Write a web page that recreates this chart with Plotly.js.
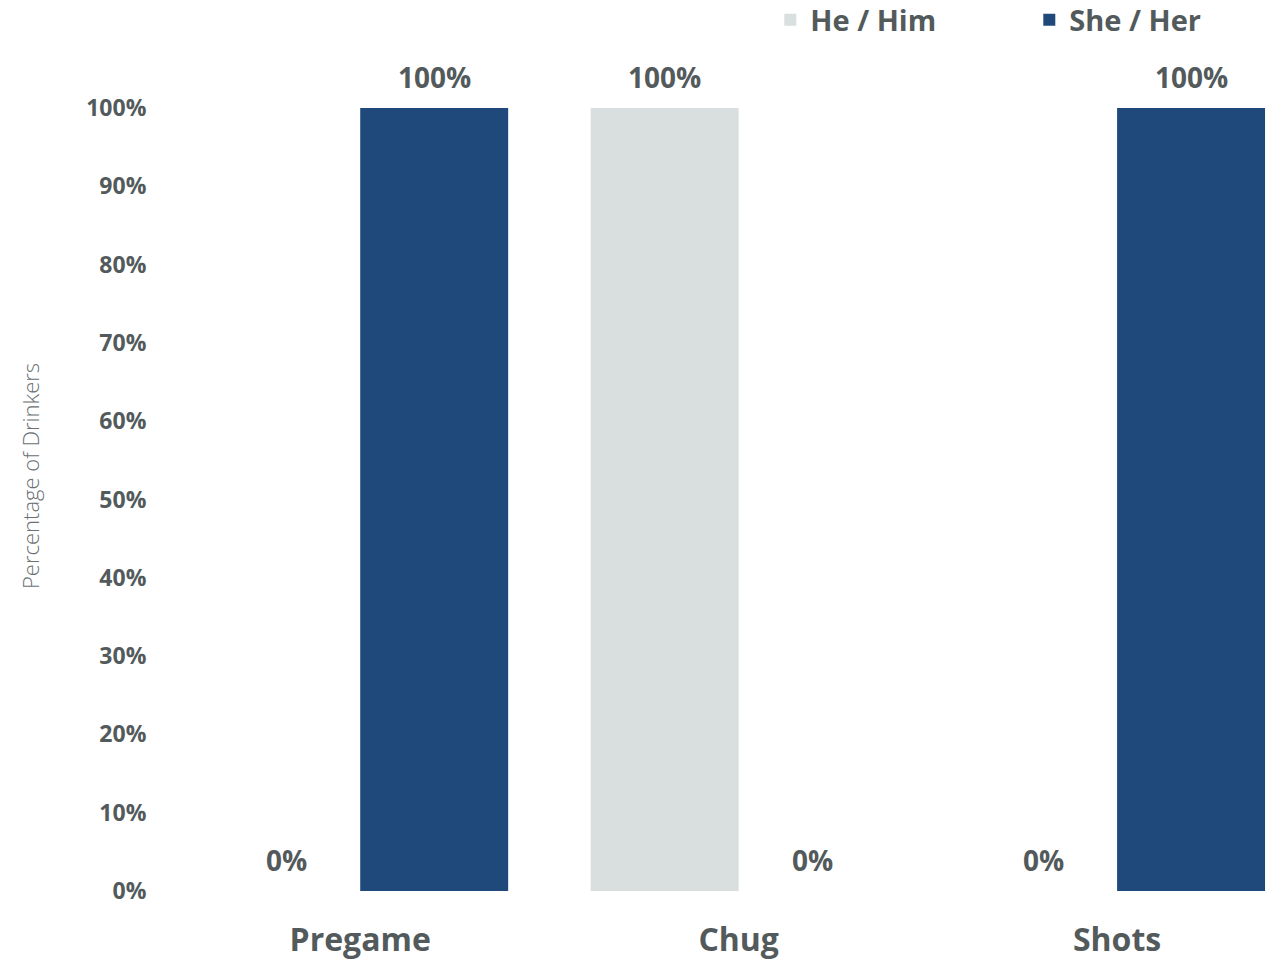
<!DOCTYPE html>
<html>
<head>
<meta charset="utf-8">
<script src="https://cdn.plot.ly/plotly-3.0.1.min.js"></script>
<style>
  html, body { margin: 0; padding: 0; background: #ffffff; }
  #chart { width: 1273px; height: 960px; }
</style>
</head>
<body>
<div id="chart"></div>
<script>
// Drinking activities compared by pronoun group
const categories = ['Pregame', 'Chug', 'Shots'];
const heHimValues = [0, 1, 0];
const sheHerValues = [1, 0, 1];
const seriesNames = ['He / Him', 'She / Her'];
const yTickValues = [0, 0.1, 0.2, 0.3, 0.4, 0.5, 0.6, 0.7, 0.8, 0.9, 1];
const yTickLabels = ['0%', '10%', '20%', '30%', '40%', '50%', '60%', '70%', '80%', '90%', '100%'];
const yAxisTitle = 'Percentage of Drinkers';

const textColor = '#535a5c';
const heColor = '#d9dfdf';
const sheColor = '#20497b';
const fontFamily = '"Open Sans", "Noto Sans", sans-serif';

const traces = [
  {
    type: 'bar', name: seriesNames[0], x: categories, y: heHimValues,
    marker: { color: heColor }, hoverinfo: 'x+y+name'
  },
  {
    type: 'bar', name: seriesNames[1], x: categories, y: sheHerValues,
    marker: { color: sheColor }, hoverinfo: 'x+y+name'
  }
];

// value labels above each bar, placed from the same series values
const halfBar = 74;
const annotations = [];
[heHimValues, sheHerValues].forEach((vals, i) => {
  vals.forEach((v, j) => {
    annotations.push({
      x: categories[j], y: v, xref: 'x', yref: 'y',
      text: Math.round(v * 100) + '%',
      showarrow: false, yanchor: 'bottom',
      xshift: i === 0 ? -halfBar : halfBar, yshift: 10,
      font: { family: fontFamily, size: 28, color: textColor, weight: 700 }
    });
  });
});

// vertical axis caption, sitting a little above the plot's middle
annotations.push({
  text: yAxisTitle, xref: 'paper', yref: 'paper', x: -0.13, y: 0.53,
  xanchor: 'center', yanchor: 'middle', textangle: -90, showarrow: false,
  font: { family: fontFamily, size: 22, color: '#6b7072', weight: 300 }
});

const layout = {
  width: 1273, height: 960,
  margin: { l: 173, r: 0, t: 108, b: 69, autoexpand: false },
  paper_bgcolor: '#ffffff', plot_bgcolor: '#ffffff',
  barmode: 'group', bargap: 0.218, bargroupgap: 0,
  showlegend: true,
  legend: {
    orientation: 'h', x: 0.543, xanchor: 'left', y: 1.145, yanchor: 'top',
    entrywidth: 214, entrywidthmode: 'pixels',
    font: { family: fontFamily, size: 29, color: textColor, weight: 700 },
    bgcolor: 'rgba(0,0,0,0)'
  },
  xaxis: {
    type: 'category', range: [-0.4947, 2.412], fixedrange: true, automargin: false,
    showgrid: false, zeroline: false, showline: false,
    ticks: 'outside', ticklen: 21, tickcolor: 'rgba(0,0,0,0)',
    tickfont: { family: fontFamily, size: 32, color: textColor, weight: 700 }
  },
  yaxis: {
    range: [0, 1], fixedrange: true, automargin: false,
    tickvals: yTickValues, ticktext: yTickLabels,
    showgrid: false, zeroline: false, showline: false,
    ticks: 'outside', ticklen: 21, tickcolor: 'rgba(0,0,0,0)',
    tickfont: { family: fontFamily, size: 23, color: textColor, weight: 700 }
  },
  annotations: annotations
};

Plotly.newPlot('chart', traces, layout, { displayModeBar: false, staticPlot: true });
</script>
</body>
</html>
